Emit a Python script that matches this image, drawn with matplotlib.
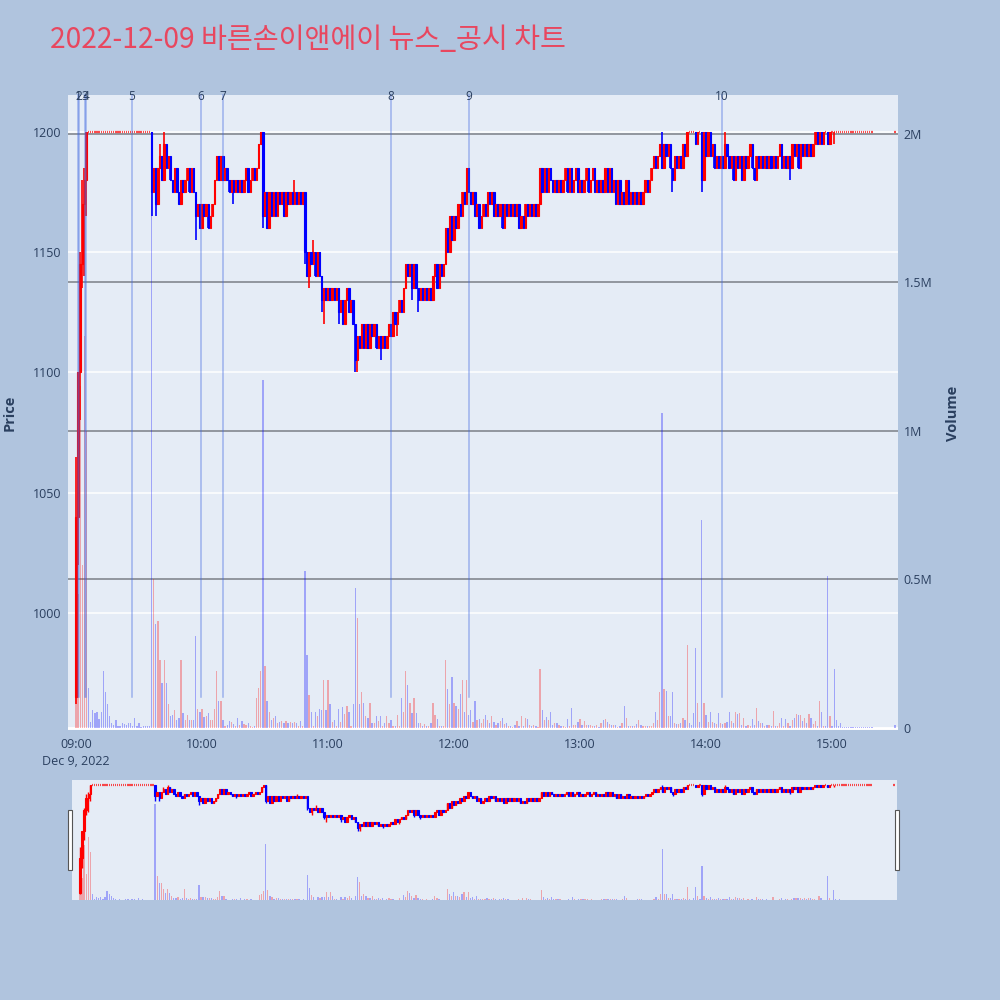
import numpy as np
import matplotlib.pyplot as plt
from matplotlib.patches import Rectangle
import matplotlib.transforms as mtransforms

TITLE = "2022-12-09 바른손이앤에이 뉴스_공시 차트"

# one candle per minute, minute 0 = 09:00; None = no trade
first_open = 965
closes = [
    1040, 1100, 1145, 1170, 1180, 1200, 1200, 1200, 1200, 1200,
    1200, 1200, 1200, 1200, 1200, 1200, 1200, 1200, 1200, 1200,
    1200, 1200, 1200, 1200, 1200, 1200, 1200, 1200, 1200, 1200,
    1200, 1200, 1200, 1200, 1200, 1200, 1175, 1185, 1170, 1185,
    1190, 1180, 1195, 1185, 1190, 1180, 1175, 1185, 1175, 1170,
    1180, 1175, 1180, 1185, 1175, 1185, 1175, 1165, 1170, 1160,
    1170, 1165, 1170, 1160, 1165, 1170, 1180, 1190, 1180, 1190,
    1180, 1185, 1180, 1175, 1180, 1175, 1180, 1175, 1180, 1175,
    1180, 1185, 1175, 1180, 1185, 1180, 1185, 1195, 1200, 1165,
    1175, 1160, 1175, 1165, 1175, 1165, 1175, 1170, 1175, 1165,
    1175, 1170, 1175, 1170, 1175, 1170, 1175, 1170, 1175, 1150,
    1140, 1150, 1145, 1150, 1140, 1150, 1140, 1130, 1135, 1130,
    1135, 1130, 1135, 1130, 1135, 1125, 1130, 1120, 1130, 1135,
    1125, 1130, 1120, 1105, 1115, 1110, 1120, 1110, 1120, 1110,
    1120, 1115, 1120, 1110, 1115, 1110, 1115, 1110, 1115, 1120,
    1115, 1125, 1120, 1125, 1130, 1125, 1135, 1145, 1140, 1145,
    1135, 1145, 1135, 1130, 1135, 1130, 1135, 1130, 1135, 1130,
    1140, 1145, 1135, 1145, 1140, 1145, 1160, 1150, 1165, 1155,
    1165, 1160, 1170, 1165, 1175, 1170, 1185, 1175, 1170, 1175,
    1165, 1170, 1160, 1165, 1170, 1165, 1175, 1170, 1175, 1165,
    1170, 1165, 1170, 1160, 1170, 1165, 1170, 1165, 1170, 1165,
    1170, 1160, 1165, 1160, 1170, 1165, 1170, 1165, 1170, 1165,
    1170, 1185, 1175, 1185, 1175, 1185, 1180, 1175, 1180, 1175,
    1180, 1175, 1180, 1185, 1175, 1185, 1175, 1180, 1185, 1175,
    1180, 1175, 1180, 1185, 1175, 1180, 1185, 1175, 1180, 1175,
    1180, 1175, 1185, 1175, 1185, 1175, 1180, 1170, 1180, 1170,
    1175, 1170, 1180, 1170, 1175, 1170, 1175, 1170, 1175, 1170,
    1175, 1180, 1175, 1180, 1185, 1190, 1185, 1190, 1195, 1185,
    1195, 1190, 1195, 1185, 1180, 1190, 1185, 1190, 1185, 1195,
    1190, 1200, 1200, 1200, 1200, 1195, 1200, 1200, 1180, 1200,
    1190, 1200, 1190, 1195, 1185, 1190, 1185, 1190, 1185, 1195,
    1190, 1185, 1190, 1180, 1190, 1185, 1190, 1180, 1190, 1185,
    1190, 1195, 1185, 1180, 1190, 1185, 1190, 1185, 1190, 1185,
    1190, 1185, 1190, 1185, 1190, 1195, 1185, 1190, 1185, 1190,
    1185, 1195, 1190, 1195, 1185, 1195, 1190, 1195, 1190, 1195,
    1190, 1195, 1200, 1195, 1200, 1195, 1200, 1200, 1195, 1200,
    1200, 1200, 1200, 1200, 1200, 1200, 1200, 1200, 1200, 1200,
    1200, 1200, 1200, 1200, 1200, 1200, 1200, 1200, 1200, 1200,
    None, None, None, None, None, None, None, None, None, None,
    1200,
]
# wicks beyond the body
high_wicks = {0: 1065, 2: 1150, 3: 1180, 4: 1185, 40: 1195, 42: 1200, 88: 1200,
              104: 1180, 113: 1155, 187: 1185, 279: 1200, 298: 1200, 309: 1200}
low_wicks = {0: 962, 1: 1020, 2: 1080, 3: 1135, 4: 1140, 5: 1165, 36: 1165,
             38: 1165, 57: 1155, 75: 1170, 89: 1160, 109: 1145, 111: 1135,
             117: 1125, 118: 1120, 125: 1120, 133: 1100, 134: 1100, 145: 1105,
             153: 1115, 160: 1130, 163: 1125, 284: 1175, 298: 1175, 340: 1180,
             361: 1195}

# volume per minute, thousands of shares
volumes_k = [
    200, 450, 1150, 550, 1320, 1000, 135, 20, 60, 50,
    55, 30, 55, 190, 120, 80, 40, 15, 10, 25,
    8, 6, 18, 12, 10, 15, 15, 8, 35, 6,
    15, 3, 5, 7, 8, 8, 2000, 500, 350, 360,
    230, 150, 230, 150, 80, 40, 45, 60, 27, 35,
    230, 50, 27, 45, 25, 27, 25, 310, 65, 55,
    65, 37, 40, 50, 25, 25, 65, 190, 90, 90,
    27, 5, 10, 22, 20, 13, 5, 33, 10, 22,
    13, 9, 15, 5, 3, 5, 100, 135, 190, 1170,
    210, 90, 55, 27, 33, 40, 17, 20, 22, 15,
    22, 17, 20, 17, 20, 15, 6, 22, 6, 530,
    245, 110, 55, 6, 55, 40, 63, 60, 160, 60,
    160, 80, 20, 25, 5, 63, 20, 70, 48, 75,
    52, 6, 80, 470, 370, 80, 120, 85, 40, 35,
    85, 17, 17, 40, 22, 40, 6, 17, 40, 15,
    27, 6, 6, 45, 6, 100, 55, 190, 145, 85,
    50, 100, 50, 17, 17, 6, 12, 6, 6, 15,
    85, 45, 30, 6, 6, 6, 230, 130, 80, 170,
    85, 75, 65, 115, 160, 55, 160, 45, 60, 20,
    90, 27, 30, 17, 30, 45, 27, 15, 40, 20,
    9, 15, 22, 33, 13, 18, 8, 5, 3, 9,
    22, 8, 40, 5, 33, 30, 11, 5, 9, 5,
    3, 200, 60, 27, 37, 25, 55, 11, 17, 17,
    11, 5, 5, 3, 30, 5, 67, 11, 9, 20,
    30, 11, 22, 11, 9, 11, 5, 8, 9, 3,
    17, 27, 30, 21, 13, 11, 11, 11, 3, 8,
    17, 73, 33, 5, 8, 5, 5, 13, 25, 11,
    5, 8, 5, 5, 8, 17, 55, 27, 120, 1060,
    130, 125, 40, 40, 120, 17, 12, 12, 15, 33,
    27, 280, 15, 10, 50, 270, 85, 20, 700, 85,
    45, 20, 55, 20, 15, 12, 50, 15, 13, 15,
    20, 55, 22, 17, 55, 48, 50, 11, 35, 5,
    11, 5, 30, 9, 67, 22, 15, 17, 8, 11,
    9, 5, 58, 5, 5, 17, 35, 5, 30, 17,
    5, 27, 33, 48, 45, 45, 22, 33, 17, 48,
    33, 14, 22, 8, 90, 52, 5, 5, 510, 40,
    5, 200, 25, 5, 17, 3, 3, 3, 3, 3,
    3, 3, 3, 3, 3, 3, 3, 3, 3, 3,
    0, 0, 0, 0, 0, 0, 0, 0, 0, 0,
    10,
]

news_labels = ['1', '2', '3', '4', '5', '6', '7', '8', '9', '10']
news_minutes = [1.0, 1.2, 4.3, 5.0, 26.7, 59.5, 69.8, 149.8, 186.9, 307.5]

hour_ticks = [0, 60, 120, 180, 240, 300, 360]
hour_labels = ['09:00\nDec 9, 2022', '10:00', '11:00', '12:00', '13:00', '14:00', '15:00']
price_ticks = [1000, 1050, 1100, 1150, 1200]
volume_ticks = [0, 500, 1000, 1500, 2000]
volume_labels = ['0', '0.5M', '1M', '1.5M', '2M']

PAGE = '#B0C4DE'
PLOT_BG = '#E5ECF6'
TEXT = '#2a3f5f'
RED = '#FF0000'
BLUE = '#0000FF'

plt.rcParams['font.family'] = ['Open Sans', 'DejaVu Sans']

# ---- build OHLC ----
n = len(closes)
minutes = np.arange(n, dtype=float)
c = np.array([np.nan if v is None else v for v in closes], dtype=float)
o = np.full(n, np.nan)
prev = first_open
for i in range(n):
    if not np.isnan(c[i]):
        o[i] = prev
        prev = c[i]
h = np.fmax(o, c)
l = np.fmin(o, c)
for k, v in high_wicks.items():
    h[k] = v
for k, v in low_wicks.items():
    l[k] = v
valid = ~np.isnan(c)

# plotly rule: equal open/close keeps the previous direction
up = np.zeros(n, dtype=bool)
last = True
for i in range(n):
    if not valid[i]:
        continue
    if c[i] > o[i]:
        last = True
    elif c[i] < o[i]:
        last = False
    up[i] = last

candle_colors = np.array([RED if u else BLUE for u in up])
vol = np.array(volumes_k, dtype=float)
vol_colors = [(1, 0, 0, 0.3) if (valid[i] and c[i] > o[i]) else (0, 0, 1, 0.3)
              for i in range(n)]


def draw_candles(axis, body_w, edge_lw, wick_lw):
    # drawn in time order so red and blue candles interleave like plotly
    axis.vlines(minutes[valid], l[valid], h[valid], colors=candle_colors[valid],
                lw=wick_lw, zorder=3)
    body = valid & (c != o)
    axis.bar(minutes[body], np.abs(c - o)[body], width=body_w,
             bottom=np.fmin(o, c)[body], color=candle_colors[body],
             edgecolor=candle_colors[body], lw=edge_lw, zorder=3)
    flat = valid & (c == o)
    axis.hlines(c[flat], minutes[flat] - 0.3, minutes[flat] + 0.3,
                colors=candle_colors[flat], lw=1.6, alpha=0.7, zorder=3)


fig = plt.figure(figsize=(10, 10), dpi=100, facecolor=PAGE)

# ---- main chart ----
ax = fig.add_axes([0.068, 0.27, 0.83, 0.635])
axv = ax.twinx()
ax.set_zorder(axv.get_zorder() + 1)
ax.patch.set_visible(False)
axv.patch.set_visible(True)
axv.patch.set_facecolor(PLOT_BG)

x_lo, x_hi = -3.8, 391.4
p_lo, p_hi = 951.25, 1215.4
v_lo, v_hi = -7, 2131
ax.set_xlim(x_lo, x_hi)
ax.set_ylim(p_lo, p_hi)
axv.set_ylim(v_lo, v_hi)

for p in price_ticks:
    f = (p - p_lo) / (p_hi - p_lo)
    axv.plot([0, 1], [f, f], transform=axv.transAxes, color='white', lw=1.1, zorder=0.5)
axv.axhline(0, color='white', lw=2, zorder=0.5)
for v in volume_ticks[1:]:
    axv.axhline(v, color='#7a7f87', lw=1.1, zorder=0.6)

axv.bar(minutes, vol, width=0.6, color=vol_colors, lw=0, zorder=1)
draw_candles(ax, 0.7, 0.8, 1.2)

trans = mtransforms.blended_transform_factory(ax.transData, ax.transAxes)
for lab, m in zip(news_labels, news_minutes):
    ax.plot([m, m], [0.052, 1.0], transform=trans, color=(0.25, 0.41, 0.88, 0.45),
            lw=1.1, zorder=4, clip_on=False)
    ax.text(m, 0.997, lab, transform=trans, ha='center', va='center',
            fontsize=8.5, color=TEXT, zorder=5)

ax.set_xticks(hour_ticks)
ax.set_xticklabels(hour_labels, fontsize=9, color=TEXT, linespacing=1.35)
ax.set_yticks(price_ticks)
ax.set_yticklabels([str(p) for p in price_ticks], fontsize=9, color=TEXT)
axv.set_yticks(volume_ticks)
axv.set_yticklabels(volume_labels, fontsize=9, color=TEXT)
ax.tick_params(axis='x', length=0, pad=6)
ax.tick_params(axis='y', length=0, pad=4.5)
axv.tick_params(axis='y', length=0, pad=4)
for a in (ax, axv):
    for s in a.spines.values():
        s.set_visible(False)
ax.grid(False)
axv.grid(False)

fig.text(0.010, 0.587, 'Price', rotation=90, ha='center', va='center',
         fontsize=10.5, fontweight='bold', color=TEXT)
fig.text(0.953, 0.587, 'Volume', rotation=90, ha='center', va='center',
         fontsize=10.5, fontweight='bold', color=TEXT)

fig.text(0.05, 0.960, TITLE, fontsize=20.3, color='#E8475F', ha='left', va='center',
         family=['Noto Sans CJK KR', 'DejaVu Sans'])

# ---- range slider ----
rs = fig.add_axes([0.072, 0.10, 0.825, 0.12])
rsv = rs.twinx()
rs.set_zorder(rsv.get_zorder() + 1)
rs.patch.set_visible(False)
rsv.patch.set_visible(True)
rsv.patch.set_facecolor(PLOT_BG)
rs.set_xlim(x_lo, x_hi)
rs.set_ylim(950, 1210)
rsv.set_ylim(0, 2500)
rsv.bar(minutes, vol, width=0.6, color=vol_colors, lw=0, zorder=1)
draw_candles(rs, 0.7, 0.8, 1.0)
for a in (rs, rsv):
    a.set_xticks([])
    a.set_yticks([])
    for s in a.spines.values():
        s.set_visible(False)

for hx in (0.068, 0.895):
    fig.patches.append(Rectangle((hx, 0.130), 0.004, 0.060, transform=fig.transFigure,
                                 facecolor='white', edgecolor='#555555', lw=0.8))

fig.savefig('out.png', dpi=100, facecolor=PAGE)
